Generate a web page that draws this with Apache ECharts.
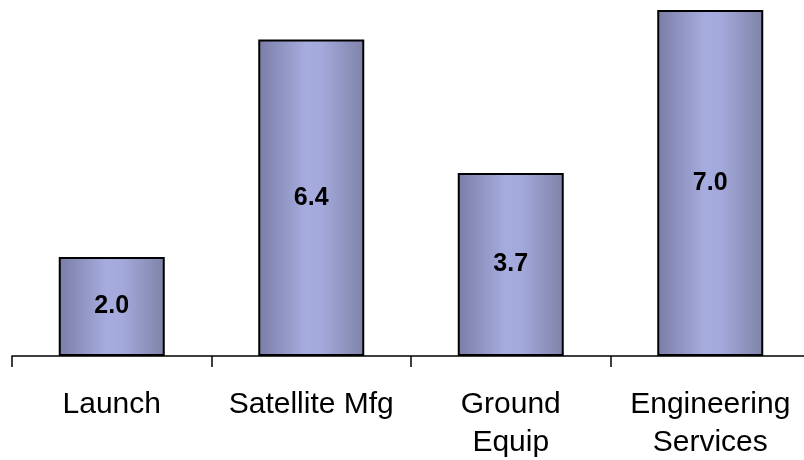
<!DOCTYPE html>
<html><head><meta charset="utf-8">
<script src="https://cdn.jsdelivr.net/npm/echarts@6/dist/echarts.min.js"></script>
<style>html,body{margin:0;padding:0;background:#fff}#c{width:804px;height:460px}</style>
</head><body><div id="c"></div>
<script>
const categories = ['Launch', 'Satellite Mfg', 'Ground\nEquip', 'Engineering\nServices'];
const values = [2.0, 6.4, 3.7, 7.0];

const chart = echarts.init(document.getElementById('c'));
chart.setOption({
  animation: false,
  backgroundColor: '#ffffff',
  grid: {left: 12, top: 0, width: 798, height: 356, containLabel: false, outerBoundsMode: 'none'},
  xAxis: {
    type: 'category', data: categories,
    axisLine: {lineStyle: {color: '#000', width: 1.5}},
    axisTick: {show: true, length: 11, lineStyle: {color: '#000', width: 1.5}},
    axisLabel: {color: '#000', fontFamily: 'Liberation Sans, Arial, sans-serif', fontSize: 30, lineHeight: 38.5, margin: 29, interval: 0, verticalAlign: 'top'}
  },
  yAxis: {type: 'value', min: 0, max: 7.2, show: false, splitLine: {show: false}},
  series: [{
    type: 'bar', data: values, barWidth: 106,
    itemStyle: {
      borderColor: '#000', borderWidth: 2,
      color: new echarts.graphic.LinearGradient(0, 0, 1, 0, [
        {offset: 0, color: '#7a7da5'},
        {offset: 0.45, color: '#a6acdf'},
        {offset: 0.6, color: '#a3a9db'},
        {offset: 1, color: '#7f83a8'}
      ])
    },
    label: {show: true, position: 'inside', formatter: p => p.value.toFixed(1), color: '#000', fontWeight: 'bold', fontSize: 25, fontFamily: 'Liberation Sans, Arial, sans-serif'}
  }]
});
</script></body></html>
